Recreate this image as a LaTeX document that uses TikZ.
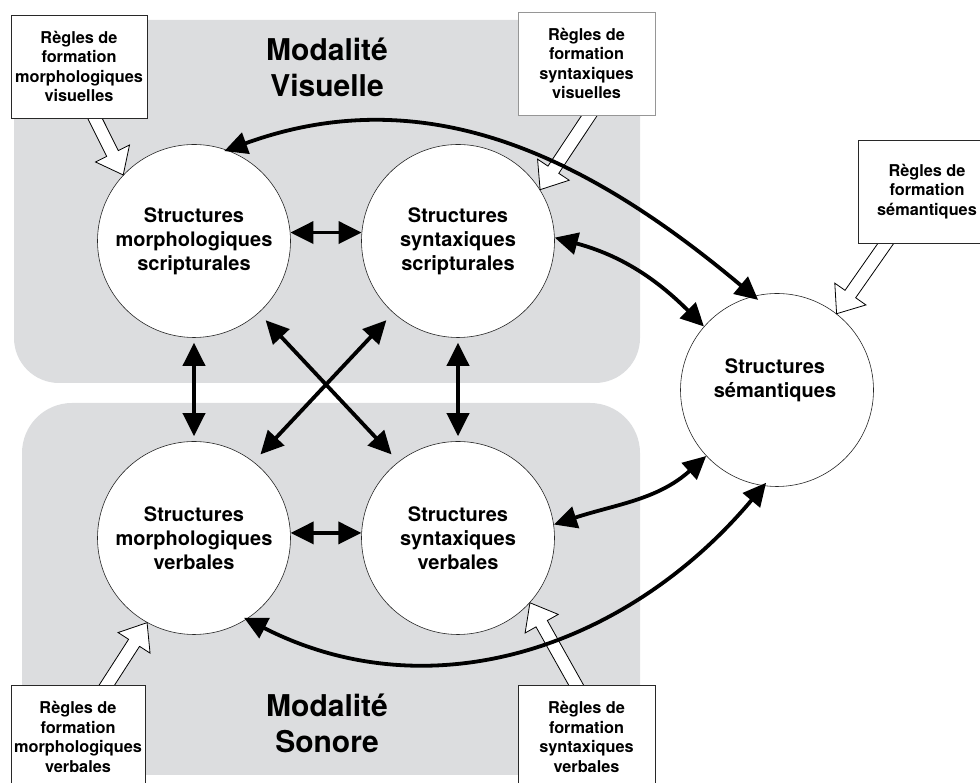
\documentclass[tikz,border=0pt]{standalone}
\usepackage{fontspec}
\setmainfont{TeX Gyre Heros}
\usetikzlibrary{arrows.meta,calc}
\definecolor{bggray}{RGB}{220,221,223}
\definecolor{boxline}{RGB}{40,40,40}
\definecolor{boxlinelight}{RGB}{150,150,150}
\tikzset{
  circ/.style={circle,draw=black!85,line width=0.6pt,fill=white,minimum size=193pt,inner sep=0pt,
    align=center,font=\bfseries\fontsize{20}{24}\selectfont},
  rulebox/.style={draw=boxline,line width=0.8pt,fill=white,minimum width=136pt,minimum height=103pt,
    inner sep=0pt,align=center,font=\bfseries\fontsize{16.3}{19.5}\selectfont},
  titletext/.style={align=center,font=\bfseries\fontsize{30}{36}\selectfont},
  dbl/.style={line width=3.8pt,black,line cap=round,
    {Triangle[length=23pt,width=22pt]}-{Triangle[length=23pt,width=22pt]}},
  hollow/.style={fill=white,draw=black,line width=0.8pt,line join=miter},
}
\newcommand\hollowarr[2]{%
  \coordinate (hh) at ($(#2)!24pt!(#1)$);
  \filldraw[hollow] ($(#1)!6.5pt!90:(#2)$) -- ($(hh)!6.5pt!90:(#2)$) -- ($(hh)!19pt!90:(#2)$) -- (#2)
    -- ($(hh)!19pt!-90:(#2)$) -- ($(hh)!6.5pt!-90:(#2)$) -- ($(#1)!6.5pt!-90:(#2)$) -- cycle;}
\begin{document}
\begin{tikzpicture}[x=1pt,y=1pt]
\useasboundingbox (0,0) rectangle (980,783);
\clip (0,0) rectangle (980,783);
% background regions
\fill[bggray] (14,763) -- (640,763) -- (640,445) arc[start angle=0,end angle=-90,radius=45]
  -- (59,400) arc[start angle=270,end angle=180,radius=45] -- cycle;
\fill[bggray] (22,8) -- (640,8) -- (640,330) arc[start angle=0,end angle=90,radius=50]
  -- (72,380) arc[start angle=90,end angle=180,radius=50] -- cycle;
% titles
\node[titletext] (tvis) at (327,716) {Modalité\\Visuelle};
\node[titletext] (tson) at (327,60) {Modalité\\Sonore};
% circles
\node[circ] (ms) at (194,542) {Structures\\morphologiques\\scripturales};
\node[circ] (ss) at (458,542) {Structures\\syntaxiques\\scripturales};
\node[circ] (mv) at (194,245) {Structures\\morphologiques\\verbales};
\node[circ] (sv) at (458,245) {Structures\\syntaxiques\\verbales};
\node[circ] (sem) at (777,393) {};
\node[align=center,font=\bfseries\fontsize{20}{24}\selectfont] (semtext) at (775,403) {Structures\\sémantiques};
% rule boxes
\node[rulebox] (rmv) at (79,716.5) {Règles de\\formation\\morphologiques\\visuelles};
\node[rulebox,draw=boxlinelight,minimum width=137pt] (rsv) at (586.5,719.5) {Règles de\\formation\\syntaxiques\\visuelles};
\node[rulebox,minimum width=138pt] (rsem) at (927,591.5) {Règles de\\formation\\sémantiques};
\node[rulebox,minimum width=134pt] (rmb) at (78,46) {Règles de\\formation\\morphologiques\\verbales};
\node[rulebox,minimum width=137pt] (rsb) at (586.5,46) {Règles de\\formation\\syntaxiques\\verbales};
% hollow arrows (drawn, then boxes redrawn on top)
\coordinate (a1) at ([xshift=13pt,yshift=6pt]rmv.south);
\coordinate (a2) at ([xshift=7pt,yshift=6pt]rsv.south);
\coordinate (a3) at ([xshift=-37pt,yshift=6pt]rsem.south);
\coordinate (a4) at ([xshift=25pt,yshift=-6pt]rmb.north);
\coordinate (a5) at ([xshift=-7pt,yshift=-6pt]rsb.north);
\hollowarr{a1}{ms.137}
\hollowarr{a2}{ss.32}
\hollowarr{a3}{sem.52}
\hollowarr{a4}{mv.241}
\hollowarr{a5}{sv.318}
\node[rulebox] at (rmv) {Règles de\\formation\\morphologiques\\visuelles};
\node[rulebox,draw=boxlinelight,minimum width=137pt] at (rsv) {Règles de\\formation\\syntaxiques\\visuelles};
\node[rulebox,minimum width=138pt] at (rsem) {Règles de\\formation\\sémantiques};
\node[rulebox,minimum width=134pt] at (rmb) {Règles de\\formation\\morphologiques\\verbales};
\node[rulebox,minimum width=137pt] at (rsb) {Règles de\\formation\\syntaxiques\\verbales};
% black double arrows
\draw[dbl] (ms.5) -- (ss.175);
\draw[dbl] (mv.3) -- (sv.177);
\draw[dbl,shorten <=5pt,shorten >=5pt] (ms.south) -- (mv.north);
\draw[dbl,shorten <=5pt,shorten >=5pt] (ss.south) -- (sv.north);
\draw[dbl,shorten <=10pt,shorten >=10pt] (ms.-48) -- (sv.128);
\draw[dbl,shorten <=10pt,shorten >=10pt] (ss.-132) -- (mv.52);
\draw[dbl,shorten <=-3pt,shorten >=-6pt] (ms.70) to[out=20,in=140] (sem.104);
\draw[dbl] (ss.2) to[out=-15,in=135] (sem.139);
\draw[dbl] (sv.8) to[out=18,in=222] (sem.223);
\draw[dbl,shorten <=-3pt,shorten >=-4pt] (mv.-57) to[out=-27,in=230] (sem.262);
\end{tikzpicture}
\end{document}
